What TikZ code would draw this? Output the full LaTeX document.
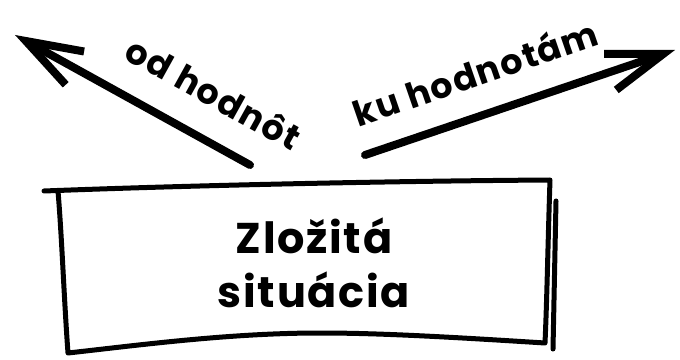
\documentclass[tikz,border=0pt]{standalone}
\usepackage{fontspec}
\setmainfont{Poppins}[LetterSpace=4]
\usetikzlibrary{arrows.meta,positioning,calc}

\begin{document}
\begin{tikzpicture}[
  x=1pt, y=1pt,
  sketch/.style={line width=5pt, line cap=round, line join=round},
  pointer/.style={line width=8pt, line cap=round, line join=round,
    -{Straight Barb[length=56pt, width=38pt, line width=8pt]}},
  title/.style={font=\fontsize{43}{54}\selectfont\bfseries, align=center},
  tag/.style={font=\fontsize{35}{40}\selectfont\bfseries},
]
  \useasboundingbox (0,0) rectangle (680,359);
  \node[title] (situation) at (314,96) {Zložitá\\situácia};

  % hand-drawn frame around the situation
  \draw[sketch] (44,168) .. controls (200,174) and (400,178) .. (550,179)
    .. controls (548,120) and (547,60) .. (545,16)
    .. controls (450,22) and (380,26) .. (320,26)
    .. controls (230,26) and (140,14) .. (68,6)
    .. controls (64,60) and (62,120) .. (58,168);
  \draw[sketch] (556,158) -- (553,10);

  \coordinate (fromtail) at (250,194);
  \coordinate (fromtip) at (15,324);
  \coordinate (totail) at (365,204);
  \coordinate (totip) at (675,309);

  \draw[pointer] (fromtail) -- (fromtip);
  \draw[pointer] (totail) -- (totip);
  \node[tag, rotate=-29] (fromvalues) at (214,266) {od hodnôt};
  \node[tag, rotate=19] (tovalues) at (475,287) {ku hodnotám};
\end{tikzpicture}
\end{document}
